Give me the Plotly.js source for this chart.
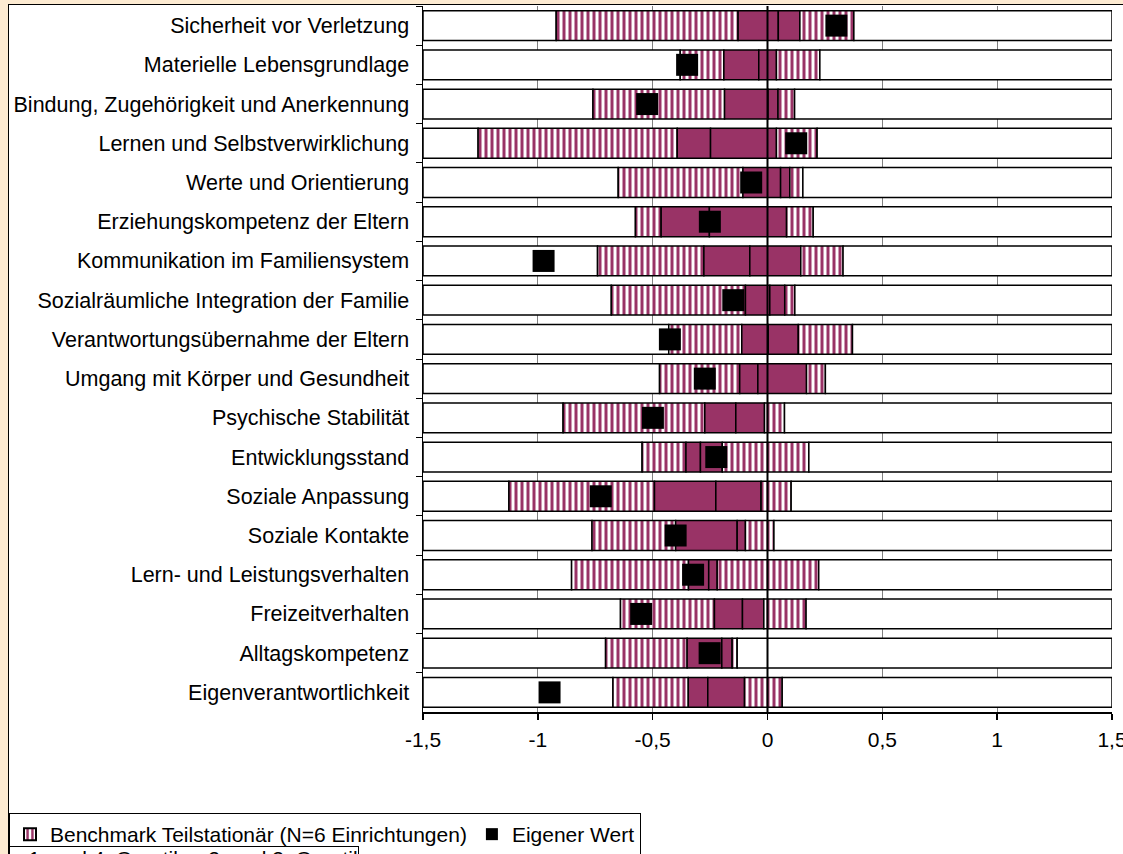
<!DOCTYPE html>
<html>
<head>
<meta charset="utf-8">
<script src="https://cdn.plot.ly/plotly-3.0.1.min.js"></script>
<style>
  html, body { margin: 0; padding: 0; width: 1123px; height: 854px; overflow: hidden; background: #fdebd2; }
  #frame { position: absolute; left: 8px; top: 4px; width: 1300px; height: 1000px; border: 1px solid #000; background: #fff; }
  #chart { position: absolute; left: 0; top: 0; width: 1123px; height: 854px; }
</style>
</head>
<body>
<div id="frame"></div>
<div id="chart"></div>
<script>
const categories = [
  "Sicherheit vor Verletzung",
  "Materielle Lebensgrundlage",
  "Bindung, Zugehörigkeit und Anerkennung",
  "Lernen und Selbstverwirklichung",
  "Werte und Orientierung",
  "Erziehungskompetenz der Eltern",
  "Kommunikation im Familiensystem",
  "Sozialräumliche Integration der Familie",
  "Verantwortungsübernahme der Eltern",
  "Umgang mit Körper und Gesundheit",
  "Psychische Stabilität",
  "Entwicklungsstand",
  "Soziale Anpassung",
  "Soziale Kontakte",
  "Lern- und Leistungsverhalten",
  "Freizeitverhalten",
  "Alltagskompetenz",
  "Eigenverantwortlichkeit"
];
const minimum  = [-0.92, -0.38, -0.76, -1.26, -0.65, -0.575, -0.74, -0.68, -0.43, -0.47, -0.89, -0.546, -1.126, -0.764, -0.853, -0.64, -0.705, -0.673];
const quartil1 = [-0.128, -0.19, -0.187, -0.393, -0.107, -0.463, -0.277, -0.096, -0.112, -0.121, -0.273, -0.355, -0.492, -0.40, -0.344, -0.231, -0.35, -0.345];
const median   = [0.047, -0.038, 0.002, -0.248, 0.057, -0.253, -0.077, 0.010, 0.003, -0.042, -0.138, -0.292, -0.225, -0.132, -0.256, -0.109, -0.199, -0.26];
const quartil3 = [0.141, 0.039, 0.046, 0.039, 0.097, 0.083, 0.145, 0.075, 0.134, 0.170, -0.013, -0.197, -0.028, -0.096, -0.219, -0.016, -0.154, -0.10];
const maximum  = [0.376, 0.228, 0.118, 0.216, 0.154, 0.199, 0.329, 0.119, 0.370, 0.252, 0.074, 0.180, 0.103, 0.028, 0.223, 0.168, -0.132, 0.064];
const eigenerWert = [0.30, -0.35, -0.524, 0.125, -0.071, -0.251, -0.975, -0.149, -0.425, -0.273, -0.499, -0.223, -0.726, -0.40, -0.324, -0.55, -0.252, -0.949];
const axisMin = -1.5, axisMax = 1.5;
const xTickValues = [-1.5, -1, -0.5, 0, 0.5, 1, 1.5];
const xTickLabels = ["-1,5", "-1", "-0,5", "0", "0,5", "1", "1,5"];
const quartilLabels = ["1. und 4. Quartil", "2. und 3. Quartil"];

const PLUM = '#993366';
const FONT = 'Liberation Sans, Arial, Helvetica, sans-serif';
const edge = { color: '#000', width: 1.5 };
const stripes = { shape: '|', fgcolor: PLUM, bgcolor: '#ffffff', size: 6, solidity: 0.5, fillmode: 'replace' };
const diff = (a, b) => a.map((v, i) => v - b[i]);

function seg(base, len, marker, extra) {
  return Object.assign({
    type: 'bar', orientation: 'h', y: categories, x: len, base: base,
    marker: Object.assign({ line: edge }, marker), hoverinfo: 'skip', showlegend: false
  }, extra || {});
}

const traces = [
  seg(categories.map(() => axisMin), minimum.map(v => v - axisMin), { color: '#ffffff' }),
  seg(minimum, diff(quartil1, minimum), { color: '#ffffff', pattern: stripes }, { name: quartilLabels[0] }),
  seg(quartil1, diff(median, quartil1), { color: PLUM }, { name: quartilLabels[1] }),
  seg(median, diff(quartil3, median), { color: PLUM }),
  seg(quartil3, diff(maximum, quartil3), { color: '#ffffff', pattern: stripes },
      { name: 'Benchmark Teilstationär (N=6 Einrichtungen)', showlegend: true }),
  seg(maximum, maximum.map(v => axisMax - v), { color: '#ffffff' }),
  {
    type: 'scatter', mode: 'markers', x: eigenerWert, y: categories,
    name: 'Eigener Wert',
    marker: { symbol: 'square', size: 22, color: '#000' }, hoverinfo: 'skip'
  }
];

const W = 1123, H = 854, L = 423, R = 11, T = 6, B = 142;
const pw = W - L - R, ph = H - T - B;
const px = x => (x - L) / pw;
const py = y => 1 - (y - T) / ph;

const layout = {
  width: W, height: H,
  margin: { l: L, r: R, t: T, b: B, pad: 0, autoexpand: false },
  paper_bgcolor: 'rgba(0,0,0,0)',
  plot_bgcolor: '#ffffff',
  barmode: 'overlay',
  bargap: 0.24,
  font: { family: FONT, size: 21, color: '#000' },
  showlegend: true,
  legend: {
    orientation: 'h', xanchor: 'left', yanchor: 'top', x: px(9), y: py(813),
    bgcolor: '#ffffff', bordercolor: '#000', borderwidth: 1,
    font: { family: FONT, size: 21, color: '#000' },
    itemsizing: 'constant', itemwidth: 30, traceorder: 'normal'
  },
  xaxis: {
    range: [axisMin, axisMax], tickvals: xTickValues, ticktext: xTickLabels,
    showgrid: true, gridcolor: '#808080', gridwidth: 1, zeroline: false,
    showline: true, linecolor: '#000', linewidth: 1.5,
    ticks: 'outside', ticklen: 6, tickcolor: '#000', tickwidth: 1.5,
    ticklabelstandoff: 2, ticklabeloverflow: 'allow', automargin: false, fixedrange: true,
    tickfont: { family: FONT, size: 21, color: '#000' }
  },
  yaxis: {
    type: 'category', range: [categories.length - 0.5, -0.5],
    showgrid: false, zeroline: false,
    showline: true, linecolor: '#000', linewidth: 1.5,
    ticks: 'outside', ticklen: 6, tickcolor: '#000', tickson: 'boundaries',
    ticklabelstandoff: 8, automargin: false, fixedrange: true,
    tickfont: { family: FONT, size: 21.5, color: '#000' }
  },
  annotations: [
    {
      xref: 'paper', yref: 'paper', x: px(9), y: py(846), xanchor: 'left', yanchor: 'top',
      showarrow: false, align: 'left',
      text: '<span style="color:' + PLUM + '">■</span> ' + quartilLabels[0] +
            '  <span style="color:' + PLUM + '">■</span> ' + quartilLabels[1],
      font: { family: FONT, size: 21, color: '#000' },
      bgcolor: '#ffffff', bordercolor: '#000', borderwidth: 1, borderpad: 0
    }
  ],
  shapes: [
    { type: 'line', xref: 'x', yref: 'paper', x0: 0, x1: 0, y0: 0, y1: 1,
      line: { color: '#000', width: 2 }, layer: 'above' }
  ]
};

Plotly.newPlot('chart', traces, layout, { staticPlot: true, displayModeBar: false });
</script>
</body>
</html>
